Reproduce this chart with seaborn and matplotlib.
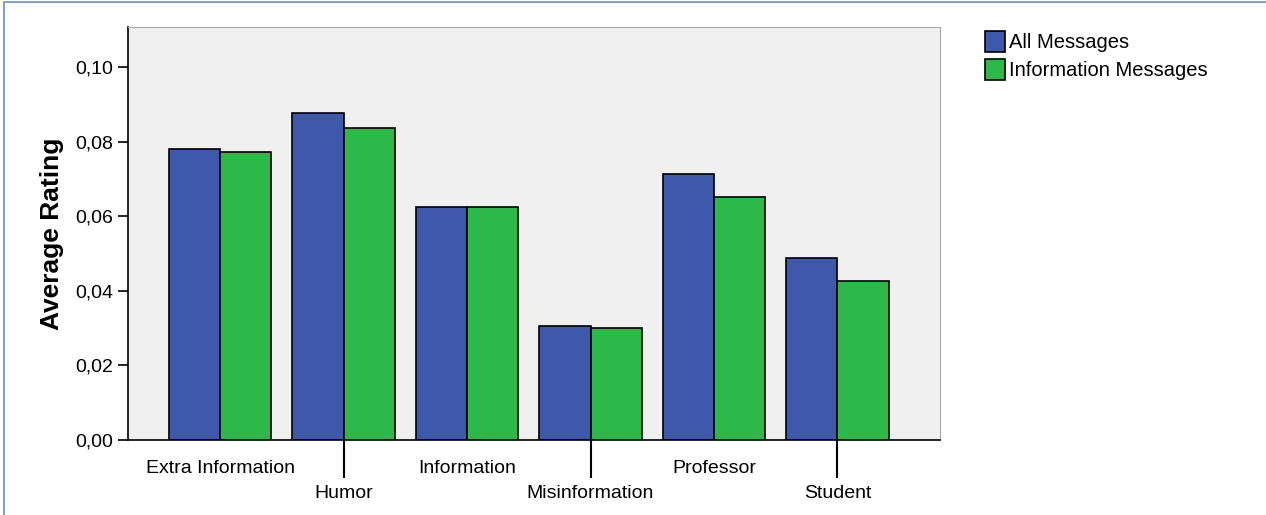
import pandas as pd
import seaborn as sns
import matplotlib.pyplot as plt
from matplotlib.patches import Rectangle
from matplotlib.ticker import FuncFormatter

categories = ['Extra Information', 'Humor', 'Information', 'Misinformation', 'Professor', 'Student']
all_messages = [0.0780, 0.0877, 0.0625, 0.0306, 0.0713, 0.0488]
info_messages = [0.0772, 0.0836, 0.0625, 0.0300, 0.0651, 0.0426]
series = ['All Messages', 'Information Messages']

df = pd.DataFrame({
    'category': categories * 2,
    'value': all_messages + info_messages,
    'series': [series[0]] * 6 + [series[1]] * 6,
})

sns.set_style('white')
plt.rcParams['font.family'] = ['Liberation Sans', 'DejaVu Sans']
plt.rcParams['text.color'] = 'black'
plt.rcParams['axes.labelcolor'] = 'black'

fig = plt.figure(figsize=(12.66, 5.15), dpi=100)
ax = fig.add_axes([128 / 1266, 75 / 515, 812 / 1266, 413 / 515])
ax.set_facecolor('#F0F0F0')

sns.barplot(data=df, x='category', y='value', hue='series', order=categories,
            palette=['#3E58AC', '#2DB84A'], width=0.83, edgecolor='black',
            linewidth=1.2, saturation=1, ax=ax)

ax.set_xlim(-0.745, 5.83)
ax.set_ylim(0, 0.1107)
ax.set_yticks([0, 0.02, 0.04, 0.06, 0.08, 0.10])
ax.yaxis.set_major_formatter(FuncFormatter(lambda v, p: f'{v:.2f}'.replace('.', ',')))
ax.set_xlabel('')
ax.set_ylabel('Average Rating', fontsize=19, fontweight='bold', labelpad=8)
ax.tick_params(axis='y', left=True, labelsize=14, colors='black', direction='out', length=7, width=1.2)
ax.tick_params(axis='x', bottom=True, labelsize=14, colors='black', width=1.5)
for i, t in enumerate(ax.xaxis.get_major_ticks()):
    t.set_pad(29 if i % 2 else 11)
for i, t in enumerate(ax.xaxis.get_major_ticks()):
    t.tick1line.set_markersize(27 if i % 2 else 0)

for s in ['top', 'right']:
    ax.spines[s].set_color('#AAAAAA')
for s in ['left', 'bottom']:
    ax.spines[s].set_color('black')
    ax.spines[s].set_linewidth(1.2)

ax.legend(loc='upper left', bbox_to_anchor=(1.045, 1.01), frameon=False,
          fontsize=14.5, handlelength=1.0, handleheight=1.2, handletextpad=0.2,
          labelspacing=0.35, borderaxespad=0)

fig.patches.append(Rectangle((0.003, -0.1), 1.2, 1.097, transform=fig.transFigure,
                             fill=False, edgecolor='#6E8FC8', linewidth=1.2))

fig.savefig('out.png', dpi=100)
